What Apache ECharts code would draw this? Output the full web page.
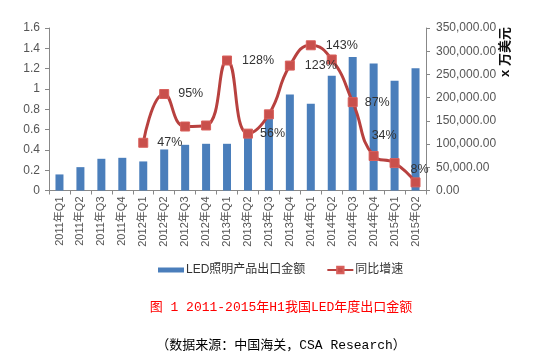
<!DOCTYPE html>
<html><head><meta charset="utf-8">
<script src="https://cdn.jsdelivr.net/npm/echarts@6/dist/echarts.min.js"></script>
<style>html,body{margin:0;padding:0;background:#fff}#c{width:534px;height:362px}</style>
</head><body><div id="c"></div>
<script>
const categories = ['2011年Q1','2011年Q2','2011年Q3','2011年Q4','2012年Q1','2012年Q2','2012年Q3','2012年Q4','2013年Q1','2013年Q2','2013年Q3','2013年Q4','2014年Q1','2014年Q2','2014年Q3','2014年Q4','2015年Q1','2015年Q2'];
const exportValues = [34600, 50300, 68300, 70400, 62600, 88400, 98400, 100600, 100600, 124000, 160000, 207000, 186800, 247000, 287700, 273400, 236200, 263400];
const growthRates = [null, null, null, null, 0.47, 0.95, 0.63, 0.64, 1.28, 0.56, 0.75, 1.23, 1.43, 1.29, 0.87, 0.34, 0.27, 0.08];
const growthLabels = [null, null, null, null, '47%', '95%', null, null, '128%', '56%', null, '123%', '143%', null, '87%', '34%', null, '8%'];
const leftTicks = { min: 0, max: 1.6, interval: 0.2 };
const rightTicks = { min: 0, max: 350000, interval: 50000 };
const seriesNames = ['LED照明产品出口金额', '同比增速'];
const titleText = '图 1 2011-2015年H1我国LED年度出口金额';
const sourceText = '（数据来源：中国海关，CSA Research）';
const unitText = 'x 万美元';

const labelPos = {
  4: { position: 'right', offset: [4, 0] },
  5: { position: 'right', offset: [4, 0] },
  8: { position: 'right', offset: [5, 0] },
  9: { position: 'right', offset: [2, 0] },
  11: { position: 'right', offset: [5, 0] },
  12: { position: 'right', offset: [5, 0] },
  14: { position: 'right', offset: [2, 0] },
  15: { position: 'right', offset: [-12, -20] },
  17: { position: 'top', offset: [4, 3] }
};
const lineData = growthRates.map((v, i) => {
  const item = { value: v };
  if (growthLabels[i]) {
    item.label = Object.assign({ show: true, formatter: growthLabels[i] }, labelPos[i]);
  }
  return item;
});

const axisFont = "'Liberation Sans', 'Noto Sans CJK SC', sans-serif";
const chart = echarts.init(document.getElementById('c'), null, { renderer: 'canvas' });
chart.setOption({
  animation: false,
  grid: { left: 49, right: 108, top: 28, bottom: 171.5, containLabel: false },
  legend: {
    left: 153, top: 259,
    itemWidth: 26, itemHeight: 8, itemGap: 21,
    textStyle: { fontSize: 12, color: '#333', fontFamily: axisFont, padding: [0, 0, 0, -3] },
    data: [
      { name: seriesNames[0], icon: 'path://M0,0H26V5H0Z' },
      { name: seriesNames[1] }
    ]
  },
  xAxis: {
    type: 'category', data: categories, boundaryGap: true,
    axisLine: { lineStyle: { color: '#888' } },
    axisTick: { show: true, interval: 0, length: 4, lineStyle: { color: '#888' } },
    axisLabel: { rotate: 90, interval: 0, fontSize: 11, color: '#555', fontFamily: axisFont, margin: 6 }
  },
  yAxis: [
    {
      type: 'value', min: leftTicks.min, max: leftTicks.max, interval: leftTicks.interval,
      axisLine: { show: true, lineStyle: { color: '#888' } },
      axisTick: { show: true, length: 4, lineStyle: { color: '#888' } },
      splitLine: { show: false },
      axisLabel: { fontSize: 12, color: '#555', fontFamily: axisFont, margin: 9,
        formatter: v => String(+v.toFixed(1)) }
    },
    {
      type: 'value', min: rightTicks.min, max: rightTicks.max, interval: rightTicks.interval,
      position: 'right',
      axisLine: { show: true, lineStyle: { color: '#888' } },
      axisTick: { show: true, length: 4, lineStyle: { color: '#888' } },
      splitLine: { show: false },
      axisLabel: { fontSize: 12, color: '#555', fontFamily: axisFont, margin: 10,
        formatter: v => v.toLocaleString('en-US', { minimumFractionDigits: 2, maximumFractionDigits: 2 }) }
    }
  ],
  series: [
    {
      name: seriesNames[0], type: 'bar', yAxisIndex: 1, data: exportValues,
      barWidth: 8,
      itemStyle: { color: '#4A7EBB' }
    },
    {
      name: seriesNames[1], type: 'line', yAxisIndex: 0, data: lineData,
      smooth: 0.5, symbol: 'rect', symbolSize: 9,
      lineStyle: { color: '#B8413F', width: 3 },
      itemStyle: { color: '#C9504C', borderColor: '#D9605C', borderWidth: 1 },
      label: { show: false, color: '#333', fontSize: 12.5, fontFamily: axisFont }
    }
  ],
  graphic: [
    { type: 'text', x: 505, y: 52, rotation: Math.PI / 2,
      style: { text: unitText, fontSize: 13, fontWeight: 'bold', fill: '#111', fontFamily: axisFont,
        align: 'center', verticalAlign: 'middle' } },
    { type: 'text', x: 281, y: 308,
      style: { text: titleText, fontSize: 13, fill: '#FF0000', fontFamily: "'Liberation Mono', 'Noto Sans CJK SC', monospace",
        align: 'center', verticalAlign: 'middle' } },
    { type: 'text', x: 281, y: 346,
      style: { text: sourceText, fontSize: 13, fill: '#000', fontFamily: "'Liberation Mono', 'Noto Sans CJK SC', monospace",
        align: 'center', verticalAlign: 'middle' } }
  ]
});
</script></body></html>
